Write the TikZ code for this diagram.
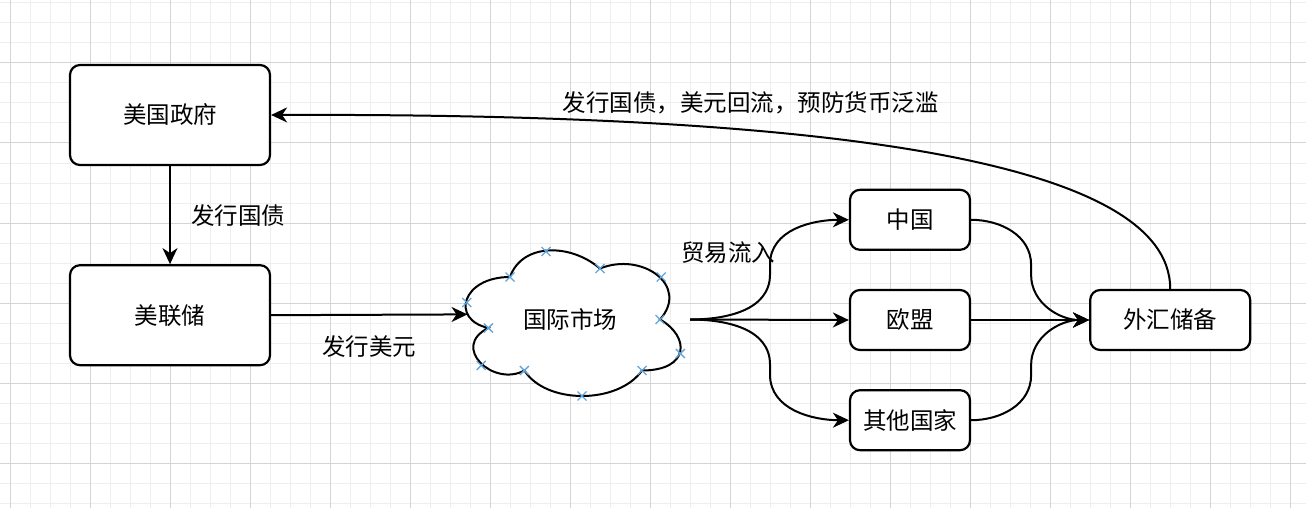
\documentclass[tikz,border=0pt]{standalone}
\usepackage{fontspec}
\setmainfont{Noto Sans CJK SC}
\usetikzlibrary{arrows.meta,positioning,backgrounds}
\definecolor{gridminor}{RGB}{238,238,238}
\definecolor{gridmajor}{RGB}{212,212,212}
\definecolor{markblue}{RGB}{100,165,218}

\begin{document}
\begin{tikzpicture}[
  x=1pt, y=-1pt,
  box/.style={draw, fill=white, rounded corners=10pt, line width=2.2pt, align=center, minimum width=200pt, minimum height=100pt, inner sep=0pt, font=\fontsize{23.5}{27}\selectfont},
  countrybox/.style={box, minimum width=120pt, minimum height=60pt},
  reservebox/.style={box, minimum width=160pt, minimum height=60pt},
  lbl/.style={inner sep=2pt, font=\fontsize{23.5}{27}\selectfont},
  arr/.style={line width=2pt, -{Stealth[length=16pt,width=15pt,inset=5pt]}},
  cross/.style={draw=markblue, line width=1.3pt}
]
\useasboundingbox (0,0) rectangle (1306,508);

% grid
\begin{scope}[on background layer]
  \foreach \gx in {10,30,...,1306} \draw[gridminor, line width=1pt] (\gx,0) -- (\gx,508);
  \foreach \gy in {3,23,...,508} \draw[gridminor, line width=1pt] (0,\gy) -- (1306,\gy);
  \foreach \gx in {10,90,...,1306} \draw[gridmajor, line width=1pt] (\gx,0) -- (\gx,508);
  \foreach \gy in {63,143,...,508} \draw[gridmajor, line width=1pt] (0,\gy) -- (1306,\gy);
\end{scope}

\node[box] (gov) at (170,115) {美国政府};
\node[box, below=98pt of gov] (fed) {美联储};
\node[minimum width=240pt, minimum height=170pt, inner sep=0pt, outer sep=0pt, font=\fontsize{23.5}{27}\selectfont] (market) at (570,319.5) {国际市场};
\node[countrybox] (eu) at (910,320) {欧盟};
\node[countrybox, above=38pt of eu] (cn) {中国};
\node[countrybox, below=38pt of eu] (other) {其他国家};
\node[reservebox, right=118pt of eu] (reserve) {外汇储备};

% cloud
\begin{scope}[on background layer]
\begin{scope}[shift={(market.north west)}, x=240pt, y=-170pt]
  \draw[line width=2pt, fill=white] (0.25,0.25) .. controls (0.05,0.25) and (0,0.5) .. (0.16,0.55)
    .. controls (0,0.66) and (0.18,0.9) .. (0.31,0.8)
    .. controls (0.4,1) and (0.7,1) .. (0.8,0.8)
    .. controls (1,0.8) and (1,0.6) .. (0.875,0.5)
    .. controls (1,0.3) and (0.8,0.1) .. (0.625,0.2)
    .. controls (0.5,0.05) and (0.3,0.05) .. (0.25,0.25) -- cycle;
\end{scope}
\end{scope}
\begin{scope}[shift={(market.north west)}, x=240pt, y=-170pt]
  \coordinate (marketin) at (0.073,0.47);
  \foreach \mx/\my in {0.25/0.25, 0.4/0.1, 0.16/0.55, 0.07/0.4, 0.31/0.8, 0.13/0.77, 0.8/0.8, 0.55/0.95, 0.875/0.5, 0.96/0.7, 0.625/0.2, 0.88/0.25}
    \draw[cross] (\mx,\my) ++(-4.5pt,-4.5pt) -- ++(9pt,9pt) ++(-9pt,0pt) -- ++(9pt,-9pt);
\end{scope}

\draw[arr] (gov) -- node[lbl, right=18pt] {发行国债} (fed);
\draw[arr] (fed.east) -- node[lbl, below=18pt] {发行美元} (marketin);

\draw[arr] (market.east) to[out=0,in=-90] ++(80,-45) -- ++(0,-10)
  node[lbl, anchor=east, xshift=8pt, yshift=12pt] {贸易流入}
  to[out=90,in=180] (cn.west);
\draw[arr] (market.east) -- (eu.west);
\draw[arr] (market.east) to[out=0,in=90] ++(80,45) -- ++(0,10) to[out=-90,in=180] (other.west);

\draw[arr] (cn.east) to[out=0,in=90] ++(60,45) -- ++(0,10) to[out=-90,in=180] (reserve.west);
\draw[arr] (eu.east) -- (reserve.west);
\draw[arr] (other.east) to[out=0,in=-90] ++(60,-45) -- ++(0,-10) to[out=90,in=180] (reserve.west);

\draw[arr] (reserve.north) .. controls +(0,-130) and +(550,-2) ..
  node[lbl, pos=0.665, above=13pt] {发行国债，美元回流，预防货币泛滥} (gov.east);
\end{tikzpicture}
\end{document}
